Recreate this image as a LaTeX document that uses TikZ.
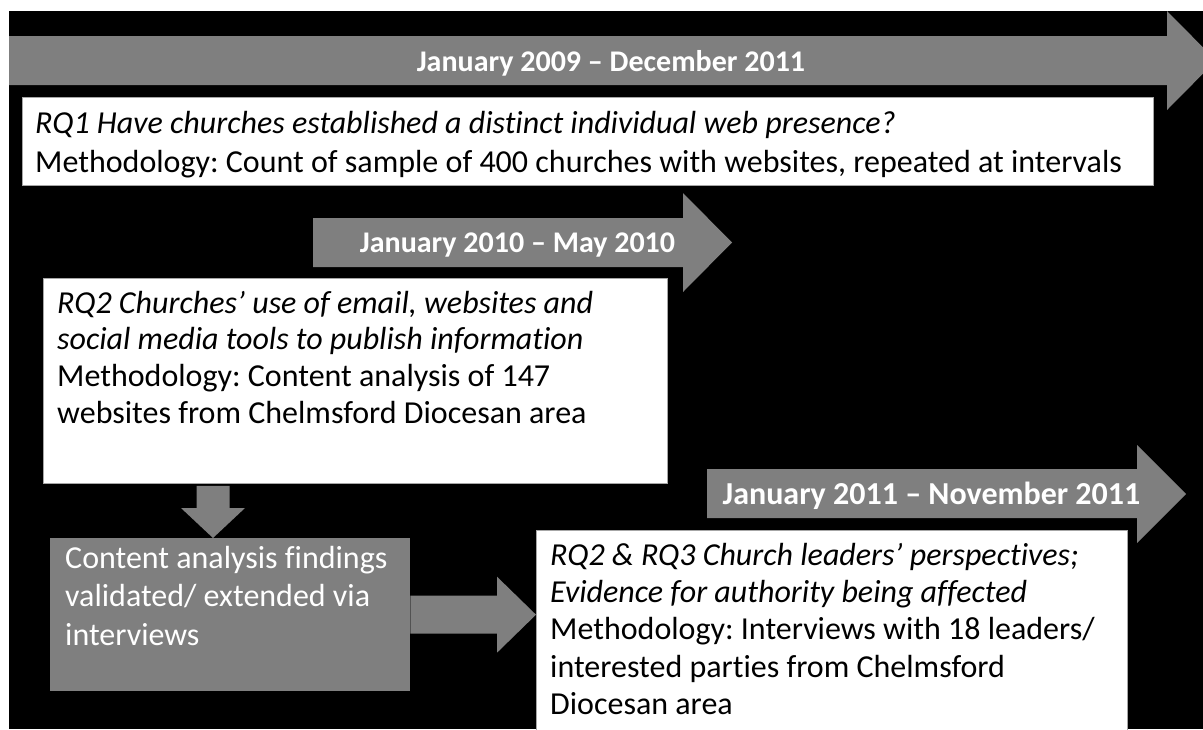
\documentclass[tikz,border=0pt]{standalone}
\usepackage{fontspec}
\setmainfont{Carlito}[Ligatures=NoCommon]
\usetikzlibrary{calc}
\definecolor{arrowgray}{HTML}{7F7F7F}
\frenchspacing
\begin{document}
\begin{tikzpicture}[x=1pt,y=-1pt,
  panel/.style={draw=gray!70, line width=0.8pt, fill=white, anchor=north west, inner sep=0pt},
  greybox/.style={fill=arrowgray, anchor=north west, inner sep=0pt},
  blockarrow/.style={fill=arrowgray},
  bodytext/.style={anchor=base west, inner sep=0pt, font=\fontsize{32}{#1}\selectfont},
  periodlabel/.style={anchor=base, inner sep=0pt, text=white, font=\fontsize{#1}{#1}\selectfont\bfseries}
]
\useasboundingbox (0,0) rectangle (1203,729);
\fill[white] (0,0) rectangle (1203,729);
\begin{scope}
\clip (0,0) rectangle (1203,729);
\fill[black] (9,11) rectangle (1203,729);

% period arrows
\fill[blockarrow] (9,36) -- (1167,36) -- (1167,11) -- (1216,60.5) -- (1167,110) -- (1167,85) -- (9,85) -- cycle;
\node[periodlabel=30] (p1) at (611,71.5) {January 2009 – December 2011};

\fill[blockarrow] (313,218) -- (683,218) -- (683,193) -- (732,242.5) -- (683,292) -- (683,267) -- (313,267) -- cycle;
\node[periodlabel=30] (p2) at (517.5,252.5) {January 2010 – May 2010};

\fill[blockarrow] (707,469) -- (1137,469) -- (1137,445) -- (1186,494) -- (1137,543) -- (1137,518) -- (707,518) -- cycle;
\node[periodlabel=32] (p3) at (931.5,504.5) {January 2011 – November 2011};

% research question panels
\node[panel, minimum width=1131pt, minimum height=88pt] (rq1) at (22,97) {};
\node[bodytext=39] (rq1t) at (35,133.5) {\parbox[t]{1120pt}{\raggedright
  \textit{RQ1 Have churches established a distinct individual web presence?}\\
  Methodology: Count of sample of 400 churches with websites, repeated at intervals}};

\node[panel, minimum width=624pt, minimum height=205pt] (rq2) at (43,278) {};
\node[bodytext=36.7] (rq2t) at (57,313) {\parbox[t]{600pt}{\raggedright
  \textit{RQ2 Churches’ use of email, websites and}\\
  \textit{social media tools to publish information}\\
  Methodology: Content analysis of 147\\
  websites from Chelmsford Diocesan area}};

\node[greybox, minimum width=360pt, minimum height=153pt] (find) at (50,538) {};
\node[bodytext=38.5, text=white] (findt) at (65,568) {\parbox[t]{340pt}{\raggedright
  Content analysis findings\\
  validated/ extended via\\
  interviews}};

\node[panel, minimum width=591pt, minimum height=215pt] (rq3) at (536,530) {};
\node[bodytext=37.4] (rq3t) at (550,565) {\parbox[t]{570pt}{\raggedright
  \textit{RQ2 \& RQ3 Church leaders’ perspectives;}\\
  \textit{Evidence for authority being affected}\\
  Methodology: Interviews with 18 leaders/\\
  interested parties from Chelmsford\\
  Diocesan area}};

% connector: content analysis -> interview validation
\coordinate (dtip) at ($(find.north west)+(163,0)$);
\coordinate (dtail) at (dtip |- rq2.south);
\fill[blockarrow] ($(dtail)+(-16.5,2)$) -- ($(dtail)+(16.5,2)$) -- ($(dtip)+(16.5,-30)$)
  -- ($(dtip)+(32,-30)$) -- (dtip) -- ($(dtip)+(-32,-30)$) -- ($(dtip)+(-16.5,-30)$) -- cycle;

% connector: validation -> interviews with leaders
\coordinate (rtail) at (find.east);
\coordinate (rtip) at (rq3.west |- find.east);
\fill[blockarrow] ($(rtail)+(0,-19)$) -- ($(rtip)+(-39,-19)$) -- ($(rtip)+(-39,-38)$)
  -- (rtip) -- ($(rtip)+(-39,38)$) -- ($(rtip)+(-39,19)$) -- ($(rtail)+(0,19)$) -- cycle;
\end{scope}
\end{tikzpicture}
\end{document}
